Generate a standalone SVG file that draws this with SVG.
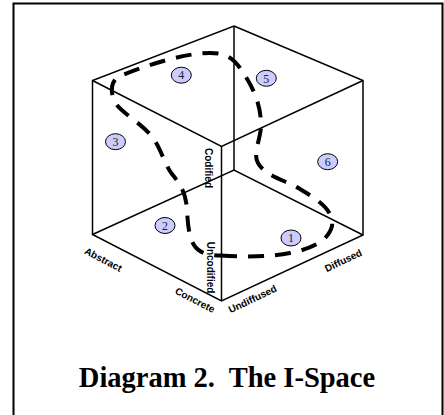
<svg xmlns="http://www.w3.org/2000/svg" width="444" height="415" viewBox="0 0 444 415">
  <style>
    .edge { fill: none; stroke: #000; stroke-width: 1.5; stroke-linejoin: miter; }
    .loop { fill: none; stroke: #000; stroke-width: 4; stroke-dasharray: 16 11; }
    .bubble { fill: #ccccff; stroke: #000; stroke-width: 1; }
    .num { font-family: "Liberation Serif", "Times New Roman", serif; font-size: 12px; fill: #222; text-anchor: middle; }
    .axis { font-family: "Liberation Sans", Arial, sans-serif; font-size: 10px; font-weight: bold; fill: #000; text-anchor: middle; }
    .title { font-family: "Liberation Serif", "Times New Roman", serif; font-size: 28.5px; font-weight: bold; fill: #000; text-anchor: middle; }
  </style>
  <rect width="444" height="415" fill="#fff"/>
  <path d="M13.5,418 V3.5 H442.5 V418" fill="none" stroke="#000" stroke-width="2"/>

  <g id="cube" class="edge">
    <path d="M234,26 L363,80.5 L363,235 L221.5,301 L92.5,234.5 L92.5,80.5 Z"/>
    <path d="M92.5,80.5 L221.5,146.5 L363,80.5"/>
    <path d="M221.5,146.5 L221.5,301"/>
    <path d="M234,26 L234,170"/>
    <path d="M92.5,234.5 L234,170 L363,235"/>
  </g>

  <g id="connectors">
    <path class="loop" d="M221,255.5 C245,257 270,257 290,253 C310,249 328,242 332,226 C334,210 318,200 300,189 C285,180 265,176 258,163 C252,152 262,138 261,122 C260,100 250,82 240,68 C232,57 225,53 210,53 C185,53 150,64 120,76 C110,80 110,95 116,104 C124,115 145,125 155,141 C162,152 165,165 172,174 C180,184 186,192 187,210 C188,230 190,245 200,251 C206,255 214,255.5 221,255.5 Z"/>
  </g>

  <g id="n1"><ellipse class="bubble" cx="291" cy="238" rx="10" ry="8"/><text class="num" x="291" y="242.2">1</text></g>
  <g id="n2"><ellipse class="bubble" cx="165" cy="225.5" rx="10" ry="8"/><text class="num" x="165" y="229.7">2</text></g>
  <g id="n3"><ellipse class="bubble" cx="115.5" cy="141.7" rx="10" ry="8"/><text class="num" x="115.5" y="145.9">3</text></g>
  <g id="n4"><ellipse class="bubble" cx="181.3" cy="75.2" rx="10" ry="8"/><text class="num" x="181.3" y="79.4">4</text></g>
  <g id="n5"><ellipse class="bubble" cx="266.3" cy="78.3" rx="10" ry="8"/><text class="num" x="266.3" y="82.5">5</text></g>
  <g id="n6"><ellipse class="bubble" cx="327.7" cy="161.7" rx="10" ry="8"/><text class="num" x="327.7" y="165.9">6</text></g>

  <g id="labels">
    <text class="axis" transform="translate(208,168) rotate(90)" dy="0.35em">Codified</text>
    <text class="axis" transform="translate(210,267.5) rotate(90)" dy="0.35em">Uncodified</text>
    <text class="axis" transform="translate(103.3,259.5) rotate(27.4)" dy="0.35em">Abstract</text>
    <text class="axis" transform="translate(195,300) rotate(27.4)" dy="0.35em">Concrete</text>
    <text class="axis" transform="translate(252.5,299) rotate(-25.3)" dy="0.35em">Undiffused</text>
    <text class="axis" transform="translate(343.3,260.5) rotate(-25.3)" dy="0.35em">Diffused</text>
  </g>

  <text id="title" class="title" x="227" y="387" xml:space="preserve">Diagram 2.  The I-Space</text>
</svg>
